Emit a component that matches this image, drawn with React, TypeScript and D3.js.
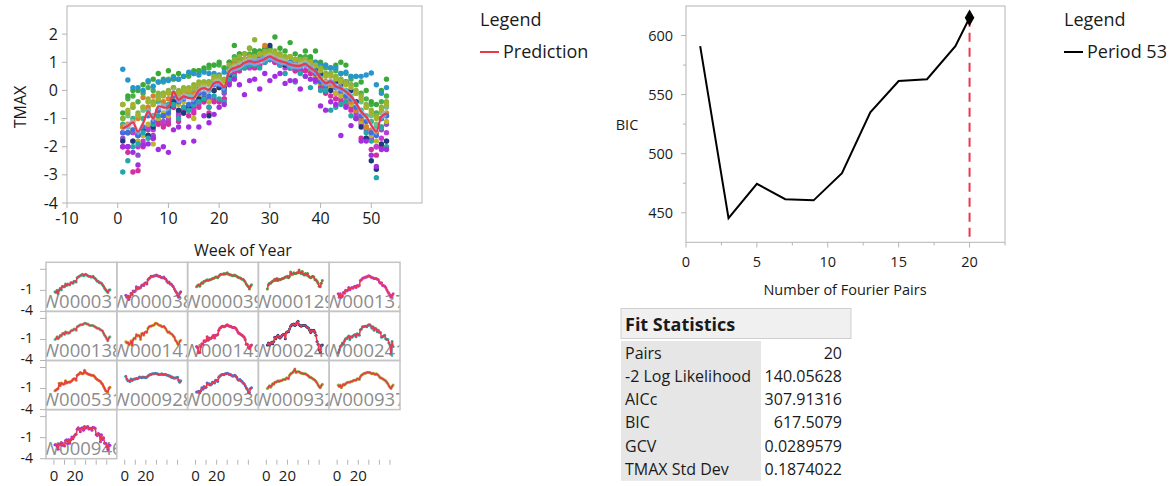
import React from "react";
import * as d3 from "d3";

// ---------- DATA ----------
const weeks = [1,2,3,4,5,6,7,8,9,10,11,12,13,14,15,16,17,18,19,20,21,22,23,24,25,26,27,28,29,30,31,32,33,34,35,36,37,38,39,40,41,42,43,44,45,46,47,48,49,50,51,52,53];

const prediction = [-1.35,-1.26,-1.14,-1.46,-1.17,-0.75,-0.99,-0.57,-0.6,-0.6,
  -0.04,-0.33,-0.21,-0.27,-0.27,0,0.08,0.02,0.26,0.29,
  0.12,0.68,0.8,0.86,0.98,1.04,1.0,1.04,1.12,1.21,
  1.12,1.04,1.0,0.92,0.88,0.88,0.94,0.8,0.68,0.44,
  0.26,0.32,0.14,0.08,-0.04,-0.21,-0.45,-0.75,-0.93,-1.23,
  -1.46,-0.93,-0.81];
const bandHalf = 0.13;

const stationNames = ["W000031","W000038","W000039","W000129","W000137","W000138","W000147","W000149","W000240","W000241","W000531","W000928","W000930","W000932","W000937","W000946"];
const stationColors = ["#35b38c","#8e50c8","#46b04e","#3aa937","#c23ad4","#6cc18c","#bdb52b","#d42f9f","#1c3b7d","#22a8a8","#d9802a","#2796cc","#3f6fdf","#8fb33a","#a5b22c","#a22ee2"];

const sW000031 = [-1.2,-1.3,-1.0,-1.5,-1.0,-0.7,-0.9,-0.4,-0.5,-0.5,-0.1,-0.3,-0.1,-0.2,-0.2,0.1,0.1,0.0,0.3,0.3,0.2,0.8,0.9,1.0,1.1,1.2,1.3,1.1,1.2,1.3,1.2,1.1,1.0,1.0,0.9,0.9,1.0,0.8,0.7,0.5,0.3,0.3,0.1,0.1,0.0,-0.2,-0.4,-0.7,-0.9,-1.1,-1.3,-1.0,-0.9];
const sW000038 = [-1.7,-2.0,-1.8,-2.3,-1.9,-1.4,-1.6,-1.1,-1.2,-1.1,-0.5,-0.8,-0.6,-0.7,-0.6,-0.3,-0.2,-0.3,0.0,0.1,-0.1,0.5,0.7,0.8,1.0,1.0,1.0,1.1,1.1,1.2,1.1,1.0,1.0,0.9,0.8,0.8,0.9,0.7,0.6,0.3,0.1,0.2,-0.1,-0.1,-0.3,-0.5,-0.8,-1.1,-1.3,-1.7,-2.0,-1.4,-1.2];
const sW000039 = [-0.5,-0.3,-0.2,-0.4,-0.1,0.1,0.0,0.3,0.3,0.4,0.5,0.4,0.5,0.5,0.6,0.7,0.7,0.8,0.9,0.9,0.8,1.0,1.2,1.3,1.3,1.3,1.4,1.3,1.4,1.5,1.3,1.3,1.2,1.2,1.1,1.1,1.2,1.1,1.0,0.9,0.8,0.8,0.7,0.6,0.6,0.4,0.2,-0.1,-0.3,-0.5,-0.8,-0.4,-0.2];
const sW000129 = [-0.8,-0.2,0.0,0.0,0.2,0.3,0.4,0.6,0.4,0.7,0.4,0.6,0.5,0.6,0.7,0.7,0.8,0.9,0.9,1.0,0.8,1.0,1.6,1.3,1.3,1.5,1.4,1.4,1.5,1.5,1.9,1.5,1.4,1.7,1.3,1.2,1.4,1.2,1.4,1.0,0.9,0.8,0.9,1.0,0.9,0.5,0.5,0.3,0.0,-0.4,-0.5,0.0,0.4];
const sW000137 = [-1.5,-2.0,-1.5,-2.0,-1.8,-1.3,-1.4,-1.0,-1.1,-1.0,-0.6,-0.9,-0.7,-0.6,-0.7,-0.5,-0.4,-0.6,-0.3,-0.4,-0.3,0.4,0.5,0.7,0.8,0.8,0.9,0.9,1.0,1.1,1.0,0.9,0.8,0.8,0.7,0.7,0.7,0.6,0.5,0.2,0.0,0.1,-0.3,-0.3,-0.4,-0.6,-0.9,-1.2,-1.4,-1.7,-2.0,-1.7,-1.5];
const sW000138 = [-1.0,-0.9,-0.6,-0.9,-0.7,-0.4,-0.5,-0.2,-0.1,-0.3,0.1,-0.1,0.0,-0.1,0.0,0.2,0.3,0.3,0.5,0.5,0.3,0.8,0.9,1.0,1.1,1.1,1.1,1.2,1.3,1.3,1.2,1.2,1.1,1.0,1.0,1.0,1.0,0.9,0.8,0.7,0.6,0.6,0.5,0.4,0.3,0.2,-0.1,-0.4,-0.6,-0.9,-1.2,-0.8,-0.6];
const sW000147 = [-1.3,-1.5,-1.4,-1.8,-1.6,-1.2,-1.9,-1.0,-0.8,-0.9,-0.3,-0.5,-0.4,-0.5,-1.0,-0.2,-0.1,-0.4,0.0,0.1,0.0,0.6,0.8,0.9,0.9,1.0,1.0,1.1,1.3,1.3,1.2,1.1,1.0,1.0,0.8,0.8,0.9,0.7,0.5,0.2,0.0,0.1,-0.1,-0.2,-0.3,-0.5,-0.7,-1.1,-1.3,-1.6,-1.8,-1.3,-1.1];
const sW000149 = [-2.0,-2.2,-2.9,-2.85,-2.0,-1.6,-1.7,-1.2,-1.3,-1.2,-0.6,-1.1,-0.8,-0.9,-0.8,-0.6,-0.4,-0.8,-0.4,-0.4,-0.3,0.3,0.6,0.7,0.9,0.9,0.8,0.9,1.0,1.1,1.0,0.9,0.9,0.8,0.7,0.7,0.7,0.6,0.4,0.1,-0.1,-0.2,-0.3,-0.4,-0.5,-0.7,-1.0,-1.7,-1.7,-2.1,-2.3,-2.0,-1.8];
const sW000240 = [-1.8,-1.5,-1.8,-1.6,-1.4,-1.6,-1.3,-0.7,-0.9,-0.6,-0.4,-0.7,-0.8,-0.6,-0.4,-0.3,-0.3,-0.9,0.0,0.1,0.1,0.5,0.9,1.1,1.1,1.2,1.0,1.1,1.4,1.6,1.1,1.0,0.9,1.0,1.0,1.0,1.0,0.8,0.7,0.6,0.3,0.0,0.3,0.2,0.3,0.0,-0.4,-1.3,-1.7,-2.5,-2.8,-1.9,-1.8];
const sW000241 = [-2.9,-2.5,-2.0,-1.9,-1.5,-1.7,-1.2,-0.9,-0.9,-0.7,-0.5,-1.0,-0.6,-0.7,-0.5,-0.4,-0.3,-0.6,-0.2,-0.3,-0.4,0.4,0.5,0.8,0.8,0.9,0.9,0.8,1.0,1.1,1.1,0.9,0.6,0.8,0.3,0.6,0.5,0.1,0.3,0.0,0.0,-0.7,-0.6,-0.5,-0.4,-0.9,-1.0,-1.0,-1.5,-1.8,-3.1,-1.3,-2.0];
const sW000531 = [-1.3,-1.2,-1.1,-1.0,-0.25,-0.6,-0.2,-0.3,-0.4,-0.3,0.1,-0.2,-0.1,-0.05,-0.1,0.0,0.1,0.3,0.4,0.4,0.2,0.9,1.0,1.1,1.3,1.2,1.1,1.2,1.6,1.3,1.2,1.1,1.0,1.0,0.9,0.9,0.9,0.8,0.6,0.4,0.3,0.2,0.1,0.0,-0.2,-0.4,-0.7,-1.0,-1.3,-1.4,-1.5,-1.0,-0.8];
const sW000928 = [0.75,0.37,0.1,0.1,0.0,0.35,0.15,0.3,0.35,0.35,0.45,0.4,0.5,0.65,0.6,0.55,0.65,0.6,0.6,0.55,0.65,0.8,0.9,1.0,1.0,1.1,1.1,1.1,1.2,1.1,1.1,1.0,1.0,1.0,1.1,1.0,1.0,1.0,1.0,0.9,0.9,0.8,0.8,0.6,0.65,0.5,0.5,0.5,0.55,0.62,0.2,-0.1,0.1];
const sW000930 = [-1.5,-1.5,-1.4,-1.6,-1.3,-0.9,-1.1,-0.7,-0.9,-0.8,-0.2,-0.4,-0.3,-0.5,-0.4,-0.1,-0.1,-0.2,0.2,0.2,0.0,0.6,0.8,0.9,1.0,1.0,1.0,1.1,1.1,1.2,1.1,1.0,1.0,0.9,0.8,0.8,0.9,0.8,0.6,0.3,0.2,0.3,0.1,0.0,-0.2,-0.3,-0.6,-0.9,-1.1,-1.5,-1.6,-1.0,-0.9];
const sW000932 = [-1.0,-0.8,-0.6,-0.8,-0.6,-0.3,-0.4,-0.1,-0.1,0.0,0.1,0.0,0.1,0.1,0.2,0.3,0.3,0.3,0.5,0.5,0.4,0.9,1.1,1.2,1.3,1.5,1.8,1.3,1.4,1.4,1.4,1.3,1.2,1.2,1.1,1.1,1.1,1.0,0.9,0.8,0.6,0.6,0.5,0.4,0.3,0.2,0.0,-0.2,-0.5,-0.7,-0.9,-0.6,-0.4];
const sW000937 = [-0.5,-0.7,-0.5,-0.9,-0.6,-0.4,-0.5,-0.3,-0.2,-0.1,-0.1,-0.1,0.0,0.0,0.1,0.2,0.2,0.2,0.4,0.4,0.3,0.7,0.9,1.0,1.1,1.2,1.2,1.3,1.3,1.3,1.3,1.2,1.1,1.2,1.1,1.0,1.1,1.0,0.9,0.7,0.5,0.5,0.4,0.3,0.2,0.1,-0.1,-0.3,-0.6,-0.8,-1.0,-0.7,-0.5];
const sW000946 = [-2.0,-2.0,-2.2,-2.65,-1.95,-1.9,-1.7,-2.1,-2.0,-2.2,-1.4,-1.3,-1.85,-1.3,-1.8,-1.3,-0.9,-1.15,-0.85,-0.6,-0.5,0.2,0.4,0.2,-0.15,0.35,0.4,0.05,0.6,0.35,0.5,0.6,0.25,0.35,0.35,0.05,0.5,0.4,0.35,-0.55,-0.7,-0.4,-0.5,-1.6,-0.6,-1.25,-1.0,-1.8,-1.8,-2.3,-2.7,-2.1,-2.1];

const stationValues = [sW000031,sW000038,sW000039,sW000129,sW000137,sW000138,sW000147,sW000149,sW000240,sW000241,sW000531,sW000928,sW000930,sW000932,sW000937,sW000946];

const mainXTicks = [-10,0,10,20,30,40,50];
const mainYTicks = [-4,-3,-2,-1,0,1,2];

const fourierPairs = [1,3,5,7,9,11,13,15,17,19,20];
const bicValues = [591,445.5,474.5,461.5,460.5,483.5,535,561.5,563,591,615];
const bestPairs = 20;
const bicXTicks = [0,5,10,15,20];
const bicXMinor = [2.5,7.5,12.5,17.5,22.5];
const bicYTicks = [450,500,550,600];
const bicYMinor = [475,525,575];

const statLabels = ["Pairs","-2 Log Likelihood","AICc","BIC","GCV","TMAX Std Dev"];
const statValues = ["20","140.05628","307.91316","617.5079","0.0289579","0.1874022"];

const smallYTicks = [-4,-1,2];
const smallYLabels = [-4,-1];
const smallXTicks = [0,10,20,30,40,50];
const smallXLabels = [0,20];

// ---------- STYLE ----------
const FONT = "'Open Sans', 'Noto Sans', sans-serif";
const RED = "#e8394d";
const FRAME = "#b4b4b4";
const TXT = "#1a1a1a";

export default function App() {
  // main scatter
  const mx = d3.scaleLinear().domain([-10, 60]).range([67, 422]);
  const my = d3.scaleLinear().domain([-4, 3]).range([203, 6]);
  const predLine = d3.line<number>().x((_, i) => mx(weeks[i])).y(d => my(d)).curve(d3.curveCatmullRom);
  const predBand = d3.area<number>().x((_, i) => mx(weeks[i])).y0(d => my(d - bandHalf)).y1(d => my(d + bandHalf)).curve(d3.curveCatmullRom);

  // BIC
  const bx = d3.scaleLinear().domain([0, 22.5]).range([686, 1005]);
  const by = d3.scaleLinear().domain([425, 625]).range([242.3, 6]);
  const bicLine = d3.line<number>().x((_, i) => bx(fourierPairs[i])).y(d => by(d));
  const bestBic = bicValues[fourierPairs.indexOf(bestPairs)];

  // small multiples
  const cellW = 70.8, cellH = 49.1, gridX = 46, gridY = 262.3, nCols = 5;
  const nRows = Math.ceil(stationNames.length / nCols);
  const sx = d3.scaleLinear().domain([-7.5, 59.5]).range([0, cellW]);
  const sy = d3.scaleLinear().domain([-4, 3]).range([cellH, 0]);
  const smallLine = d3.line<number>().x((_, i) => sx(weeks[i])).y(d => sy(d)).curve(d3.curveMonotoneX);
  const gridBottom = gridY + nRows * cellH;

  // table
  const tX = 621, tW = 230, labW = 140, rowH = 23.3, tBodyY = 341;

  return (
    <svg width={1174} height={486} style={{ position: "absolute", left: 0, top: 0, fontFamily: FONT }}>
      <rect x={0} y={0} width={1174} height={486} fill="#fff" />
      <defs>
        <clipPath id="mainClip"><rect x={67} y={6} width={355} height={197} /></clipPath>
        {stationNames.map((_, i) => (
          <clipPath key={i} id={`cell${i}`}>
            <rect x={0} y={0} width={cellW} height={cellH} />
          </clipPath>
        ))}
      </defs>

      {/* ===== Main scatter ===== */}
      <g clipPath="url(#mainClip)">
        {stationValues.map((vals, s) =>
          vals.map((v, i) => (
            <circle key={`${s}-${i}`} cx={mx(weeks[i])} cy={my(v)} r={2.7} fill={stationColors[s]} />
          ))
        )}
        <path d={predBand(prediction) || ""} fill="#a8c0f5" fillOpacity={0.55} />
        <path d={predLine(prediction) || ""} fill="none" stroke={RED} strokeWidth={2.2} />
      </g>
      <rect x={67} y={6} width={355} height={197} fill="none" stroke={FRAME} strokeWidth={1} />
      {mainXTicks.map(t => (
        <g key={t}>
          <line x1={mx(t)} x2={mx(t)} y1={203} y2={208} stroke={FRAME} />
          <text x={mx(t)} y={224} textAnchor="middle" fontSize={16} fill={TXT}>{t}</text>
        </g>
      ))}
      {mainYTicks.map(t => (
        <g key={t}>
          <line x1={62} x2={67} y1={my(t)} y2={my(t)} stroke={FRAME} />
          <text x={58} y={my(t)} dy="0.35em" textAnchor="end" fontSize={16} fill={TXT}>{t}</text>
        </g>
      ))}
      <text transform="translate(26,107) rotate(-90)" textAnchor="middle" fontSize={16} fill={TXT}>TMAX</text>
      <text x={243} y={256} textAnchor="middle" fontSize={16} fill={TXT}>Week of Year</text>

      {/* legend 1 */}
      <text x={480} y={26} fontSize={18} fill={TXT}>Legend</text>
      <line x1={480} x2={499} y1={52} y2={52} stroke={RED} strokeWidth={2} />
      <text x={503} y={58} fontSize={18} fill={TXT}>Prediction</text>

      {/* ===== BIC plot ===== */}
      <rect x={686} y={6} width={319} height={236.3} fill="none" stroke={FRAME} strokeWidth={1} />
      {bicXTicks.map(t => (
        <g key={t}>
          <line x1={bx(t)} x2={bx(t)} y1={242.3} y2={247.5} stroke={FRAME} />
          <text x={bx(t)} y={267} textAnchor="middle" fontSize={14.5} fill={TXT}>{t}</text>
        </g>
      ))}
      {bicXMinor.map(t => (
        <line key={t} x1={bx(t)} x2={bx(t)} y1={242.3} y2={245.5} stroke={FRAME} />
      ))}
      {bicYTicks.map(t => (
        <g key={t}>
          <line x1={681} x2={686} y1={by(t)} y2={by(t)} stroke={FRAME} />
          <text x={673} y={by(t)} dy="0.35em" textAnchor="end" fontSize={14.5} fill={TXT}>{t}</text>
        </g>
      ))}
      {bicYMinor.map(t => (
        <line key={t} x1={683} x2={686} y1={by(t)} y2={by(t)} stroke={FRAME} />
      ))}
      <text x={627} y={130} textAnchor="middle" fontSize={14.5} fill={TXT}>BIC</text>
      <text x={845} y={295} textAnchor="middle" fontSize={14.5} fill={TXT}>Number of Fourier Pairs</text>
      <line x1={bx(bestPairs)} x2={bx(bestPairs)} y1={by(bestBic)} y2={242} stroke={RED} strokeWidth={2} strokeDasharray="9,6" />
      <path d={bicLine(bicValues) || ""} fill="none" stroke="#000" strokeWidth={2} />
      <path d={d3.symbol().type(d3.symbolDiamond).size(80)() || ""} transform={`translate(${bx(bestPairs)},${by(bestBic)})`} fill="#000" />

      {/* legend 2 */}
      <text x={1064} y={26} fontSize={18} fill={TXT}>Legend</text>
      <line x1={1064} x2={1083} y1={52} y2={52} stroke="#000" strokeWidth={2} />
      <text x={1087} y={58} fontSize={18} fill={TXT}>Period 53</text>

      {/* ===== Fit statistics table ===== */}
      <rect x={tX} y={308.5} width={tW} height={30} fill="#f0f0f0" stroke="#cfcfcf" />
      <text x={tX + 4} y={331} fontSize={18} fontWeight="bold" fill={TXT}>Fit Statistics</text>
      <rect x={tX} y={tBodyY} width={labW} height={rowH * statLabels.length} fill="#e6e6e6" />
      {statLabels.map((l, i) => (
        <g key={l}>
          <text x={tX + 4} y={tBodyY + rowH * i + 17.5} fontSize={16} fill={TXT}>{l}</text>
          <text x={842} y={tBodyY + rowH * i + 17.5} textAnchor="end" fontSize={16} fill={TXT}>{statValues[i]}</text>
        </g>
      ))}

      {/* ===== Small multiples ===== */}
      {stationNames.map((name, i) => {
        const c = i % nCols, r = Math.floor(i / nCols);
        const x0 = gridX + c * cellW, y0 = gridY + r * cellH;
        return (
          <g key={name} transform={`translate(${x0},${y0})`}>
            <g clipPath={`url(#cell${i})`}>
              <text x={-4} y={cellH - 3.5} fontSize={18.5} fill="#8c8c8c">{name}</text>
              {stationValues[i].map((v, k) => (
                <circle key={k} cx={sx(weeks[k])} cy={sy(v)} r={1.5} fill={stationColors[i]} />
              ))}
              <path d={smallLine(stationValues[i]) || ""} fill="none" stroke={RED} strokeWidth={1.6} />
            </g>
            <rect x={0} y={0} width={cellW} height={cellH} fill="none" stroke="#c4c4c4" strokeWidth={1.5} />
          </g>
        );
      })}
      {d3.range(nRows).map(r => (
        <g key={r} transform={`translate(${gridX},${gridY + r * cellH})`}>
          {smallYTicks.map(t => (
            <line key={t} x1={-6} x2={0} y1={sy(t)} y2={sy(t)} stroke={FRAME} />
          ))}
          {smallYLabels.map(t => (
            <text key={t} x={-13} y={t === -4 ? sy(t) - 1 : sy(t) - 1} dy="0.35em" textAnchor="end" fontSize={14} fill={TXT}>{t}</text>
          ))}
        </g>
      ))}
      {d3.range(nCols).map(c => (
        <g key={c} transform={`translate(${gridX + c * cellW},${gridBottom})`}>
          {smallXTicks.map(t => (
            <line key={t} x1={sx(t)} x2={sx(t)} y1={1} y2={6} stroke={FRAME} />
          ))}
          {smallXLabels.map(t => (
            <text key={t} x={sx(t)} y={22} textAnchor="middle" fontSize={15} fill={TXT}>{t}</text>
          ))}
        </g>
      ))}
    </svg>
  );
}
